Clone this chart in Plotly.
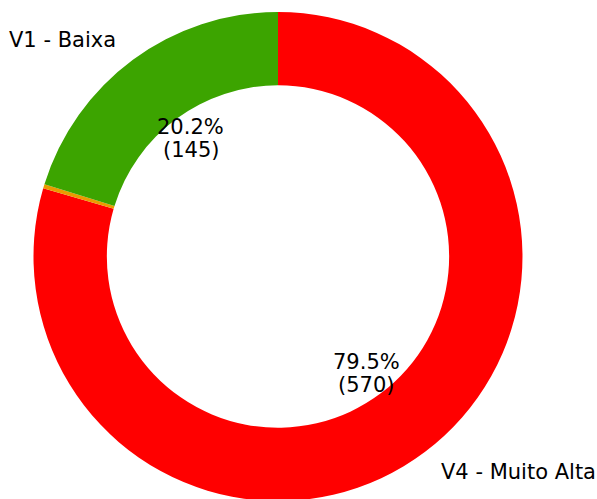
import math
import plotly.graph_objects as go

# slices listed clockwise from 12 o'clock
labels = ["V4 - Muito Alta", "V2 - Média", "V1 - Baixa"]
values = [570, 2, 145]
colors = ["#ff0000", "#eb9b00", "#3ca400"]
show_label = [True, False, True]

W, H = 597, 505
dom_x = [0.0561, 0.8752]
dom_y = [0.0079, 0.9762]
hole = 0.7
pctdistance = 0.6
labeldistance = 1.1
font = "DejaVu Sans"
fsize = 21
line_gap = 23  # px between the two lines of a percentage label

fig = go.Figure(go.Pie(
    labels=labels, values=values, hole=hole, sort=False,
    direction="clockwise", rotation=0,
    marker=dict(colors=colors, line=dict(width=0)),
    textinfo="none", hoverinfo="label+value+percent",
    domain=dict(x=dom_x, y=dom_y), showlegend=False,
))

# geometry in pixels for annotation placement
cx = (dom_x[0] + dom_x[1]) / 2 * W
cy = H - (dom_y[0] + dom_y[1]) / 2 * H
R = min((dom_x[1] - dom_x[0]) * W, (dom_y[1] - dom_y[0]) * H) / 2
total = sum(values)
start_cw = 0.0
annotations = []
txtfont = dict(family=font, size=fsize, color="#000")
for lab, v, show in zip(labels, values, show_label):
    span = v / total * 360
    mid = math.radians(90 - (start_cw + span / 2))
    start_cw += span
    if not show:
        continue
    px = cx + pctdistance * R * math.cos(mid)
    py = cy - pctdistance * R * math.sin(mid)
    for k, t in enumerate([f"{v / total * 100:.1f}%", f"({v})"]):
        yy = py + (k - 0.5) * line_gap
        annotations.append(dict(
            x=px / W, y=1 - yy / H, xref="paper", yref="paper",
            text=t, showarrow=False, font=txtfont,
            xanchor="center", yanchor="middle"))
    lx = cx + labeldistance * R * math.cos(mid)
    ly = cy - labeldistance * R * math.sin(mid)
    annotations.append(dict(
        x=lx / W, y=1 - ly / H, xref="paper", yref="paper",
        text=lab, showarrow=False, font=txtfont,
        xanchor="right" if math.cos(mid) < 0 else "left",
        yanchor="middle"))

fig.update_layout(
    width=W, height=H, margin=dict(l=0, r=0, t=0, b=0),
    paper_bgcolor="white", plot_bgcolor="white",
    annotations=annotations,
)
fig.write_html(
    "out.html",
    config={"displayModeBar": False},
    post_script=("document.body.style.margin='0';"
                 "document.body.style.overflow='hidden';"
                 "document.documentElement.style.overflow='hidden';"),
)
